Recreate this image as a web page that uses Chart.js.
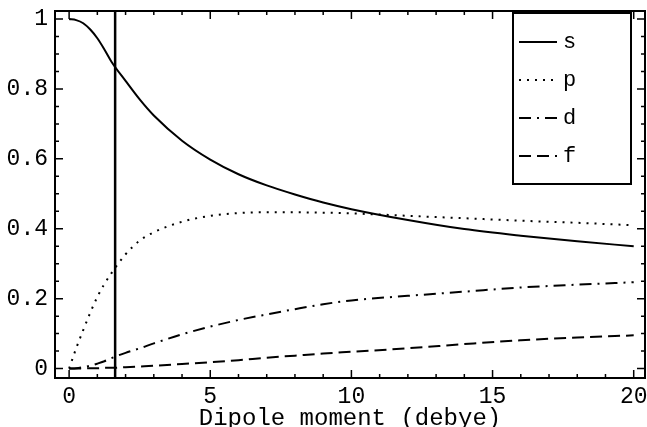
<!DOCTYPE html>
<html>
<head>
<meta charset="utf-8">
<script src="https://cdn.jsdelivr.net/npm/chart.js@4.4.1/dist/chart.umd.min.js"></script>
<style>
  html, body { margin: 0; padding: 0; background: #fff; }
  #wrap { width: 647px; height: 427px; }
</style>
</head>
<body>
<div id="wrap"><canvas id="chart"></canvas></div>
<script>
// Data
const dipole = [0, 0.25, 0.5, 0.75, 1, 1.25, 1.5, 2, 2.5, 3, 4, 5, 6, 7, 8, 9, 10, 12, 14, 16, 18, 20];
const sWave = [1.0, 0.997, 0.988, 0.97, 0.945, 0.913, 0.878, 0.823, 0.77, 0.724, 0.652, 0.598, 0.556, 0.524, 0.498, 0.475, 0.456, 0.425, 0.399, 0.38, 0.364, 0.35];
const pWave = [0, 0.058, 0.11, 0.16, 0.205, 0.242, 0.273, 0.327, 0.366, 0.39, 0.42, 0.437, 0.445, 0.447, 0.447, 0.446, 0.444, 0.437, 0.43, 0.423, 0.417, 0.41];
const dWave = [0, 0.001, 0.004, 0.008, 0.014, 0.021, 0.03, 0.045, 0.058, 0.072, 0.098, 0.12, 0.139, 0.155, 0.17, 0.184, 0.195, 0.208, 0.22, 0.232, 0.24, 0.247];
const fWave = [0, 0, 0, 0.001, 0.001, 0.002, 0.002, 0.004, 0.006, 0.008, 0.013, 0.018, 0.024, 0.031, 0.037, 0.043, 0.048, 0.058, 0.07, 0.081, 0.089, 0.095];
const cutoff = 1.63; // vertical marker
const xTicks = [0, 5, 10, 15, 20];
const yTicks = [0, 0.2, 0.4, 0.6, 0.8, 1];
const xMin = -0.5, xMax = 20.4, yMin = -0.027, yMax = 1.023;

const mono = "'Liberation Mono', 'Courier New', monospace";
const toPts = (ys) => dipole.map((x, i) => ({ x: x, y: ys[i] }));

const series = [
  { label: "s", data: sWave, dash: [] },
  { label: "p", data: pWave, dash: [2, 6] },
  { label: "d", data: dWave, dash: [12, 6, 2, 6] },
  { label: "f", data: fWave, dash: [12, 6] },
];

const datasets = series.map((s) => ({
  label: s.label,
  data: toPts(s.data),
  borderColor: "#000",
  borderWidth: 2,
  borderDash: s.dash,
  pointRadius: 0,
  cubicInterpolationMode: "monotone",
  fill: false,
}));

datasets.push({
  label: "cutoff",
  data: [{ x: cutoff, y: yMin }, { x: cutoff, y: yMax }],
  borderColor: "#000",
  borderWidth: 2.5,
  pointRadius: 0,
  fill: false,
});

// frame with inward ticks on all four sides
const framePlugin = {
  id: "frame",
  afterDatasetsDraw(chart) {
    const { ctx, chartArea: a, scales } = chart;
    const xs = scales.x, ys = scales.y;
    ctx.save();
    ctx.strokeStyle = "#000";
    ctx.lineWidth = 2;
    ctx.strokeRect(a.left, a.top, a.right - a.left, a.bottom - a.top);
    ctx.lineWidth = 1.5;
    ctx.beginPath();
    for (let v = 0; v <= 20; v++) {
      const px = xs.getPixelForValue(v);
      const len = v % 5 === 0 ? 8 : 4;
      ctx.moveTo(px, a.bottom); ctx.lineTo(px, a.bottom - len);
      ctx.moveTo(px, a.top); ctx.lineTo(px, a.top + len);
    }
    for (let k = 0; k <= 20; k++) {
      const py = ys.getPixelForValue(k * 0.05);
      const len = k % 4 === 0 ? 8 : 4;
      ctx.moveTo(a.left, py); ctx.lineTo(a.left + len, py);
      ctx.moveTo(a.right, py); ctx.lineTo(a.right - len, py);
    }
    ctx.stroke();
    ctx.restore();
  },
};

// boxed legend, top right
const legendPlugin = {
  id: "boxLegend",
  afterDraw(chart) {
    const ctx = chart.ctx;
    const box = { left: 513, top: 13, width: 118, height: 171 };
    ctx.save();
    ctx.fillStyle = "#fff";
    ctx.fillRect(box.left, box.top, box.width, box.height);
    ctx.strokeStyle = "#000";
    ctx.lineWidth = 2;
    ctx.strokeRect(box.left, box.top, box.width, box.height);
    ctx.font = "22px " + mono;
    ctx.fillStyle = "#000";
    ctx.textBaseline = "middle";
    chart.data.datasets.slice(0, 4).forEach((ds, i) => {
      const y = 42 + i * 38;
      ctx.setLineDash(ds.borderDash || []);
      ctx.lineWidth = 2;
      ctx.beginPath();
      ctx.moveTo(519, y);
      ctx.lineTo(557, y);
      ctx.stroke();
      ctx.setLineDash([]);
      ctx.fillText(ds.label, 563, y);
    });
    ctx.restore();
  },
};

new Chart(document.getElementById("chart"), {
  type: "line",
  data: { datasets: datasets },
  options: {
    responsive: true,
    maintainAspectRatio: false,
    animation: false,
    layout: { padding: { top: 11, right: 2, left: 0, bottom: 0 } },
    plugins: {
      legend: { display: false },
      tooltip: { enabled: false },
    },
    scales: {
      x: {
        type: "linear",
        min: xMin,
        max: xMax,
        afterBuildTicks: (scale) => { scale.ticks = xTicks.map((v) => ({ value: v })); },
        afterFit: (scale) => { scale.height = 49; scale.paddingLeft = 0; scale.paddingRight = 0; },
        grid: { display: false, drawTicks: false },
        border: { display: false },
        ticks: {
          color: "#000",
          font: { family: mono, size: 23 },
          padding: 5,
          maxRotation: 0,
          callback: (v) => String(v),
        },
        title: {
          display: true,
          text: "Dipole moment (debye)",
          color: "#000",
          font: { family: mono, size: 24, lineHeight: 1 },
          padding: { top: 0, bottom: -4 },
        },
      },
      y: {
        min: yMin,
        max: yMax,
        afterBuildTicks: (scale) => { scale.ticks = yTicks.map((v) => ({ value: v })); },
        afterFit: (scale) => { scale.width = 55; scale.paddingTop = 0; scale.paddingBottom = 0; },
        grid: { display: false, drawTicks: false },
        border: { display: false },
        ticks: {
          color: "#000",
          font: { family: mono, size: 23 },
          padding: 7,
          callback: (v) => String(v),
        },
      },
    },
  },
  plugins: [framePlugin, legendPlugin],
});
</script>
</body>
</html>
